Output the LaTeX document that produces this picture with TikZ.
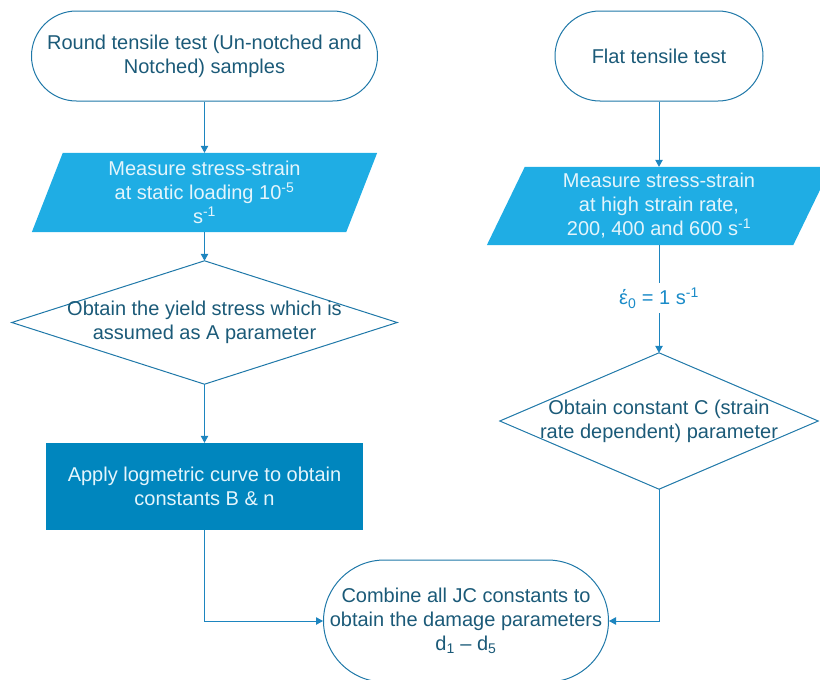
\documentclass[tikz,border=0pt]{standalone}
\usepackage{fontspec}
\setmainfont{Liberation Sans}
\usetikzlibrary{arrows.meta,calc}

\definecolor{inkdark}{HTML}{1B5A78}
\definecolor{edgeblue}{HTML}{1F78A8}
\definecolor{flowblue}{HTML}{1D85BF}
\definecolor{iofill}{HTML}{1FADE4}
\definecolor{procfill}{HTML}{0086BE}
\definecolor{paletext}{HTML}{E4F5FC}
\definecolor{ratetext}{HTML}{1A8BC8}

\pgfdeclarelayer{bg}
\pgfsetlayers{bg,main}

\begin{document}
\begin{tikzpicture}[x=1pt,y=1pt,
  font=\fontsize{20pt}{24pt}\selectfont,
  terminal/.style={draw=edgeblue, line width=1pt, text=inkdark, align=center, inner sep=0pt},
  iobox/.style={minimum height=79pt, text=paletext, align=center, inner sep=0pt},
  decision/.style={text=inkdark, align=center, inner sep=0pt},
  process/.style={fill=procfill, text=paletext, align=center, inner sep=0pt},
  ratelabel/.style={text=ratetext, minimum height=30pt, inner sep=0pt},
  flow/.style={draw=flowblue, line width=1pt, -{Triangle[length=7pt,width=7.5pt]}},
  link/.style={draw=flowblue, line width=1pt},
  outline/.style={draw=edgeblue, line width=1pt, line join=miter}
]
\useasboundingbox (0,0) rectangle (820,-680);

% left column
\node[terminal, minimum width=346pt, minimum height=90pt, rounded corners=45pt] (t1) at (204.5,-56)
  {Round tensile test (Un-notched and\\Notched) samples};
\node[iobox, minimum width=345pt] (m1) at (204.5,-192.5)
  {Measure stress-strain\\at static loading 10\textsuperscript{-5}\\s\textsuperscript{-1}};
\node[decision, minimum width=385pt, minimum height=123pt] (d1) at (204.5,-322.5)
  {Obtain the yield stress which is\\assumed as A parameter};
\node[process, minimum width=317pt, minimum height=87pt] (r1) at (204.5,-486.5)
  {Apply logmetric curve to obtain\\constants B \& n};

% right column
\node[terminal, minimum width=208pt, minimum height=90pt, rounded corners=45pt] (t2) at (659,-56)
  {Flat tensile test};
\node[iobox, minimum width=344pt, minimum height=78pt] (m2) at (659,-206)
  {Measure stress-strain\\at high strain rate,\\200, 400 and 600 s\textsuperscript{-1}};
\node[ratelabel] (lbl) at (659,-298) {έ\textsubscript{0} = 1 s\textsuperscript{-1}};
\node[decision, minimum width=318pt, minimum height=136pt] (d2) at (659,-421)
  {Obtain constant C (strain\\rate dependent) parameter};

% merge terminal
\node[terminal, minimum width=285pt, minimum height=122pt, rounded corners=61pt] (t3) at (466,-621)
  {Combine all JC constants to\\obtain the damage parameters\\d\textsubscript{1} – d\textsubscript{5}};

% shapes behind the texts
\begin{pgfonlayer}{bg}
  \fill[iofill] ([xshift=31pt]m1.north west) -- (m1.north east)
    -- ([xshift=-31pt]m1.south east) -- (m1.south west) -- cycle;
  \fill[iofill] ([xshift=38pt]m2.north west) -- (m2.north east)
    -- ([xshift=-38pt]m2.south east) -- (m2.south west) -- cycle;
  \draw[outline] (d1.north) -- (d1.east) -- (d1.south) -- (d1.west) -- cycle;
  \draw[outline] (d2.north) -- (d2.east) -- (d2.south) -- (d2.west) -- cycle;
\end{pgfonlayer}

% connectors
\draw[flow] (t1.south) -- (m1.north);
\draw[flow] (m1.south) -- (d1.north);
\draw[flow] (d1.south) -- (r1.north);
\draw[flow] (r1.south) |- (t3.west);
\draw[flow] (t2.south) -- (m2.north);
\draw[link] (m2.south) -- (lbl.north);
\draw[flow] (lbl.south) -- (d2.north);
\draw[flow] (d2.south) |- (t3.east);
\end{tikzpicture}
\end{document}
